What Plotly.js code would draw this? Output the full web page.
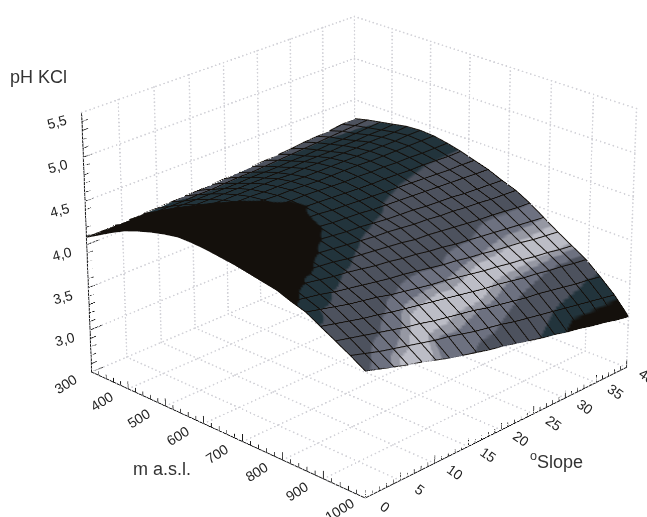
<!DOCTYPE html>
<html><head><meta charset="utf-8">
<script src="https://cdn.plot.ly/plotly-3.0.1.min.js"></script>
<style>html,body{margin:0;padding:0;background:#fff;width:647px;height:517px;overflow:hidden;position:relative}
#c{position:absolute;left:-1258px;top:-1050px;width:3235px;height:2585px}</style></head>
<body><div id="c"></div>
<script>
const elevation=[300,335,370,405,440,475,510,545,580,615,650,685,720,755,790,825,860,895,930,965,1000];
const slope=[0,2,4,6,8,10,12,14,16,18,20,22,24,26,28,30,32,34,36,38,40];
const pH=[
[4.08,4.17,4.26,4.34,4.40,4.45,4.49,4.52,4.52,4.51,4.49,4.47,4.44,4.41,4.38,4.32,4.27,4.18,4.09,4.00,3.90],
[4.08,4.17,4.26,4.34,4.39,4.44,4.48,4.50,4.50,4.49,4.47,4.45,4.42,4.38,4.35,4.29,4.23,4.14,4.05,3.95,3.85],
[4.09,4.17,4.26,4.33,4.39,4.43,4.47,4.49,4.49,4.48,4.45,4.43,4.39,4.36,4.32,4.26,4.19,4.10,4.01,3.90,3.80],
[4.09,4.17,4.26,4.33,4.38,4.43,4.46,4.48,4.48,4.46,4.43,4.41,4.37,4.33,4.29,4.22,4.15,4.06,3.97,3.86,3.75],
[4.10,4.18,4.26,4.33,4.38,4.42,4.45,4.47,4.46,4.44,4.42,4.39,4.35,4.31,4.26,4.19,4.12,4.03,3.93,3.82,3.71],
[4.10,4.18,4.26,4.32,4.38,4.42,4.44,4.45,4.45,4.43,4.40,4.37,4.33,4.29,4.24,4.16,4.09,3.99,3.89,3.78,3.66],
[4.11,4.18,4.26,4.32,4.37,4.41,4.44,4.44,4.44,4.41,4.38,4.35,4.31,4.26,4.21,4.13,4.05,3.96,3.86,3.74,3.61],
[4.12,4.19,4.26,4.32,4.37,4.41,4.43,4.43,4.42,4.40,4.37,4.33,4.29,4.24,4.18,4.10,4.02,3.93,3.82,3.71,3.57],
[4.12,4.19,4.26,4.32,4.37,4.40,4.42,4.42,4.41,4.39,4.35,4.31,4.27,4.22,4.16,4.08,3.99,3.90,3.79,3.67,3.53],
[4.13,4.20,4.26,4.32,4.37,4.40,4.42,4.42,4.40,4.37,4.34,4.30,4.25,4.20,4.13,4.05,3.96,3.87,3.76,3.63,3.49],
[4.14,4.21,4.27,4.32,4.37,4.40,4.41,4.41,4.39,4.36,4.33,4.28,4.24,4.18,4.11,4.02,3.94,3.84,3.73,3.60,3.46],
[4.15,4.21,4.27,4.32,4.36,4.39,4.40,4.40,4.38,4.35,4.31,4.26,4.22,4.15,4.08,3.99,3.91,3.81,3.69,3.57,3.42],
[4.16,4.22,4.27,4.32,4.37,4.39,4.40,4.39,4.37,4.34,4.30,4.25,4.20,4.14,4.06,3.97,3.88,3.78,3.66,3.53,3.38],
[4.17,4.23,4.28,4.33,4.37,4.39,4.40,4.39,4.36,4.33,4.29,4.24,4.19,4.12,4.03,3.94,3.85,3.76,3.63,3.50,3.34],
[4.18,4.24,4.28,4.33,4.37,4.39,4.40,4.38,4.36,4.32,4.28,4.22,4.17,4.10,4.01,3.92,3.83,3.73,3.60,3.47,3.31],
[4.19,4.25,4.29,4.33,4.37,4.39,4.39,4.38,4.35,4.31,4.27,4.21,4.16,4.08,3.99,3.89,3.80,3.70,3.58,3.44,3.27],
[4.21,4.26,4.30,4.34,4.37,4.39,4.39,4.37,4.34,4.30,4.26,4.20,4.14,4.06,3.97,3.87,3.78,3.68,3.55,3.41,3.24],
[4.22,4.27,4.30,4.34,4.38,4.39,4.39,4.37,4.34,4.29,4.25,4.18,4.13,4.05,3.95,3.85,3.75,3.65,3.52,3.38,3.20],
[4.23,4.28,4.31,4.35,4.38,4.39,4.39,4.36,4.33,4.28,4.24,4.17,4.11,4.03,3.93,3.82,3.73,3.63,3.49,3.35,3.17],
[4.25,4.29,4.32,4.35,4.38,4.40,4.39,4.36,4.32,4.28,4.23,4.16,4.10,4.01,3.91,3.80,3.70,3.60,3.47,3.32,3.13],
[4.26,4.30,4.33,4.36,4.39,4.40,4.39,4.36,4.32,4.27,4.22,4.15,4.09,4.00,3.89,3.78,3.68,3.58,3.44,3.29,3.10]];
const shade=[
[5,5,5,5,5,5,5,5,5,5,6,6,7,7,8,9,11.3,14.2,15,15.8,16.7],
[6,6,6,6,6,6,6,6,6,6,6,7,7,8,9,10.7,14,14.8,15.6,16.5,17.5],
[7,7,7,7,7,7,7,7,7,7,7,8,8,9,10,12.9,14.5,15.4,16.3,17.5,19],
[8,8,8,8,8,8,8,8,8,8,8,8,8,9,11.7,14.2,15,15.9,16.8,18.6,22],
[10,9,9,8,8,8,8,8,8,8,8,8,9,10.6,13.4,14.8,15.7,16.6,17.8,20,23.3],
[12,11,10.5,10,9,9,9,9,9,9,9,9,10,12.4,14.3,15.2,16.2,17.3,19.4,22.5,25],
[14,13,12,11,10.5,9.5,9,9,9,9,9,9.7,11.6,13.6,14.8,15.8,16.8,19.3,22.3,26,27],
[15,14,13,12,11.5,11,10,9.5,9,9.2,9.6,11,13,14.5,15.5,16.4,17.3,20.3,23.2,26.5,27.6],
[15,14,13.5,13,12.5,12,11.5,10,9.8,11,12,13,14,15,15.7,16.5,18,21,24,26.5,28],
[15,14,13,13,13,12.5,12,11,10.5,11,12.5,13.5,14.5,15.3,16,16.8,18.5,22,25,27,29],
[15,14,13,13,13,13,12.5,12,12,12.5,13,14,14.7,15.4,16.1,16.8,18.8,21.7,25.6,27.4,29],
[15,14,13,13,13,13,13,13,13,13,13.4,14.4,15,15.7,16.3,17,19.7,22.5,26.3,28,29],
[15,14,13,13,13,13,13,13,13,13.4,14.1,14.7,15.4,15.9,16.5,17.6,20.7,24,26.9,28.8,31],
[15,14,13,13,13,13,13,13,13,13.7,14.4,15,15.5,16,16.7,18.4,22.2,25.2,27.6,29.8,32],
[15,14,13,13,13,13,13,13,13.4,14,14.6,15.2,15.7,16.3,16.9,19,22.7,26,28.5,30.8,33],
[15,14,13,13,13,13,13,13,13.5,14.2,14.8,15.4,15.9,16.5,17.2,19.7,23,26.6,29.3,31.8,34],
[15,14,13,13,13,13,13,13,13.7,14.4,15,15.5,16.1,16.7,17.8,20.3,23.6,27.3,30,32.7,35],
[15,14,13,12,12,12,12,13,13.9,14.5,15.1,15.7,16.2,16.8,18,20.7,24,28,30.9,33,35],
[15,14.5,13,12,12,12,12,13,14,14.6,15.2,15.7,16.3,16.8,18.2,21,24.4,28.6,31.4,33.3,35],
[15,14.5,13.5,12,12,12,12,13,14.1,14.7,15.2,15.8,16.4,16.9,18.5,21.4,24.8,29,32,33.5,35],
[15,15,14,13,12,12,12.5,13,14.2,14.7,15.3,15.9,16.4,17,19,21.6,25,29.3,32.3,33.7,35]];
const shadeBreaks=[0,10,14,17,19,20.5,24.5,26,28,32,34,35];
const shadeColors=['#14100c','#22343c','#4d525e','#6d7180','#9698a3','#bcbdc6','#9698a3','#6d7180','#4d525e','#22343c','#14100c'];
const xTicks=[300,400,500,600,700,800,900,1000];
const yTicks=[0,5,10,15,20,25,30,35,40];
const zTicks=[3,3.5,4,4.5,5,5.5];
const xMinorStep=20,yMinorStep=1,zMinorStep=0.1;
const xRange=[300,1000],yRange=[0,40],zRange=[2.5,5.5];
const W=3235,H=2585,OX=1258,OY=1050;
const px=(x)=>(x+OX)/W, py=(y)=>1-(y+OY)/H;
const colorscale=[];
shadeColors.forEach((c,i)=>{colorscale.push([shadeBreaks[i]/35,c]);colorscale.push([shadeBreaks[i+1]/35,c]);});
function dots(){
 const X=[],Y=[],Z=[],N=70;
 const seg=(a,b)=>{for(let i=0;i<=N;i++){const f=i/N;X.push(a[0]+(b[0]-a[0])*f);Y.push(a[1]+(b[1]-a[1])*f);Z.push(a[2]+(b[2]-a[2])*f);}};
 xTicks.forEach(t=>{seg([t,0,2.5],[t,40,2.5]);seg([t,40,2.5],[t,40,5.5]);});
 yTicks.forEach(t=>{seg([300,t,2.5],[1000,t,2.5]);seg([300,t,2.5],[300,t,5.5]);});
 zTicks.forEach(t=>{seg([300,0,t],[300,40,t]);seg([300,40,t],[1000,40,t]);});
 return {type:'scatter3d',mode:'markers',x:X,y:Y,z:Z,marker:{color:'#d2d2d8',size:1,line:{width:0}},hoverinfo:'skip',showlegend:false};
}
function tickMarks(){
 const X=[],Y=[],Z=[];
 const seg=(a,b)=>{X.push(a[0],b[0],null);Y.push(a[1],b[1],null);Z.push(a[2],b[2],null);};
 for(let t=300;t<=1000;t+=xMinorStep){const l=xTicks.includes(t)?0.09:0.05;seg([t,0,2.5],[t,0,2.5+l]);}
 for(let t=0;t<=40;t+=yMinorStep){const l=yTicks.includes(t)?0.09:0.05;seg([1000,t,2.5],[1000,t,2.5+l]);}
 for(let i=0;i<=30;i++){const t=2.5+i*zMinorStep;const major=i%5===0;seg([300,0,t],[300,major?1.6:0.8,t]);}
 return {type:'scatter3d',mode:'lines',x:X,y:Y,z:Z,line:{color:'#111',width:1.5},hoverinfo:'skip',showlegend:false};
}
function mesh(){
 const X=[],Y=[],Z=[],lift=0.006;
 slope.forEach((s,j)=>{elevation.forEach((e,i)=>{X.push(e);Y.push(s);Z.push(pH[j][i]+lift);});X.push(null);Y.push(null);Z.push(null);});
 elevation.forEach((e,i)=>{slope.forEach((s,j)=>{X.push(e);Y.push(s);Z.push(pH[j][i]+lift);});X.push(null);Y.push(null);Z.push(null);});
 return {type:'scatter3d',mode:'lines',x:X,y:Y,z:Z,line:{color:'#14100c',width:2},hoverinfo:'skip',showlegend:false};
}
const surf={type:'surface',x:elevation,y:slope,z:pH,surfacecolor:shade,cmin:0,cmax:35,colorscale:colorscale,showscale:false,hoverinfo:'skip',
 lighting:{ambient:1,diffuse:0,specular:0,fresnel:0,roughness:1}};
const ax={showgrid:false,zeroline:false,showbackground:false,showspikes:false,showline:true,linecolor:'#111',linewidth:2,ticks:'',showticklabels:false,title:{text:''}};
const titleFont={family:'Liberation Sans',size:18,color:'#333'};
const tickFont={family:'Liberation Sans',size:14,color:'#222'};
const tl=(x,y,z,text,angle,dx,dy)=>({x,y,z,text:String(text),textangle:angle,showarrow:false,xanchor:'center',yanchor:'middle',xshift:dx,yshift:-dy,font:tickFont});
const layout={width:W,height:H,margin:{l:0,r:0,t:0,b:0},paper_bgcolor:'#fff',showlegend:false,
 font:{family:'Liberation Sans'},
 scene:{domain:{x:[0,1],y:[0,1]},aspectmode:'manual',aspectratio:{x:0.4938,y:0.4938,z:0.3632},
  camera:{eye:{x:2.534,y:-2.636,z:1.62},center:{x:0,y:0,z:0},up:{x:0,y:0,z:1}},
  xaxis:Object.assign({},ax,{range:xRange,tickvals:xTicks}),
  yaxis:Object.assign({},ax,{range:yRange,tickvals:yTicks}),
  zaxis:Object.assign({},ax,{range:zRange,tickvals:zTicks}),
  annotations:[].concat(
   xTicks.map(t=>tl(t,0,2.5,t,-32,-26,12)),
   yTicks.map(t=>tl(1000,t,2.5,t,35,20,9)),
   zTicks.map(t=>tl(300,0,t,t.toFixed(1).replace('.',','),-15,-25,9)))},
 annotations:[
 {xref:'paper',yref:'paper',x:px(10),y:py(77),text:'pH KCl',showarrow:false,xanchor:'left',yanchor:'middle',xshift:-2,font:titleFont},
 {xref:'paper',yref:'paper',x:px(133),y:py(469),text:'m a.s.l.',showarrow:false,xanchor:'left',yanchor:'middle',xshift:-2,font:titleFont},
 {xref:'paper',yref:'paper',x:px(530),y:py(460),text:'<sup>o</sup>Slope',showarrow:false,xanchor:'left',yanchor:'middle',xshift:-2,font:titleFont}]};
Plotly.newPlot('c',[dots(),tickMarks(),surf,mesh()],layout,{displayModeBar:false});
</script></body></html>
